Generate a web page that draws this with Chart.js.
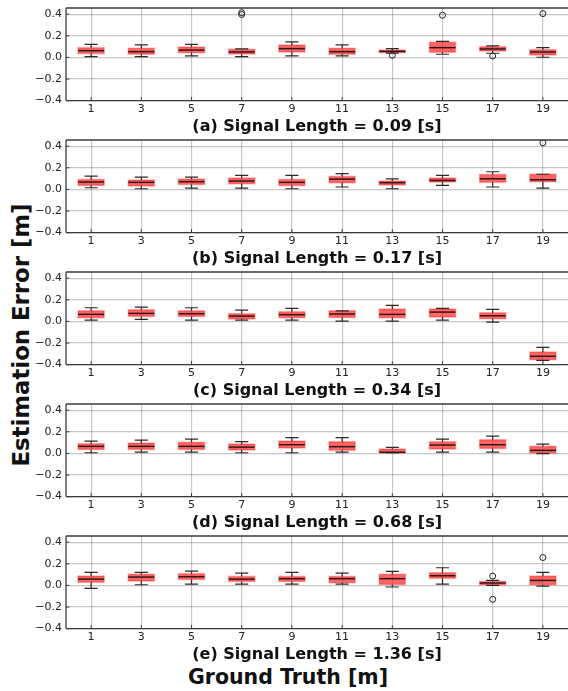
<!DOCTYPE html>
<html>
<head>
<meta charset="utf-8">
<script src="https://cdn.jsdelivr.net/npm/chart.js@4.4.0/dist/chart.umd.min.js"></script>
<style>
  body { margin: 0; background: #fff; }
  #figure { position: relative; width: 568px; height: 691px; overflow: hidden; font-family: 'DejaVu Sans', sans-serif; color: #111; }
  #figure canvas { position: absolute; left: 0; }
  .supx { position: absolute; left: 0; width: 576px; top: 665px; line-height: 24px; text-align: center; font-weight: bold; font-size: 20.5px; }
  .supy { position: absolute; left: -129px; top: 322px; width: 300px; line-height: 26px; text-align: center; font-weight: bold; font-size: 22.8px; transform: rotate(-90deg); }
</style>
</head>
<body>
<div id="figure">
  <div class="supy">Estimation Error [m]</div>
  <div class="supx">Ground Truth [m]</div>
</div>
<script>
const xLabels = ['1', '3', '5', '7', '9', '11', '13', '15', '17', '19'];
const yTicks = [-0.4, -0.2, 0.0, 0.2, 0.4];
const panelTitles = [
  '(a) Signal Length = 0.09 [s]',
  '(b) Signal Length = 0.17 [s]',
  '(c) Signal Length = 0.34 [s]',
  '(d) Signal Length = 0.68 [s]',
  '(e) Signal Length = 1.36 [s]'
];

// one row per signal length, one value per ground-truth position
const whiskerLow = [
  [0.007, 0.007, 0.013, 0.007, 0.013, 0.013, 0.040, 0.029, 0.038, 0.001],
  [0.015, 0.006, 0.012, 0.012, 0.006, 0.022, 0.006, 0.037, 0.022, 0.012],
  [0.012, 0.018, 0.012, 0.012, 0.012, 0.003, 0.003, 0.012, -0.006, -0.360],
  [0.006, 0.012, 0.012, 0.006, 0.006, 0.012, 0.006, 0.012, 0.012, -0.003],
  [-0.028, 0.006, 0.012, 0.012, 0.012, 0.012, -0.015, 0.012, 0.000, -0.006]
];
const q1 = [
  [0.035, 0.030, 0.044, 0.031, 0.050, 0.030, 0.044, 0.047, 0.059, 0.022],
  [0.037, 0.031, 0.046, 0.052, 0.035, 0.062, 0.040, 0.068, 0.065, 0.071],
  [0.034, 0.046, 0.046, 0.022, 0.034, 0.037, 0.034, 0.040, 0.025, -0.354],
  [0.037, 0.037, 0.037, 0.031, 0.049, 0.028, 0.006, 0.040, 0.046, 0.003],
  [0.028, 0.040, 0.055, 0.037, 0.037, 0.025, 0.009, 0.065, 0.006, 0.006]
];
const medians = [
  [0.062, 0.053, 0.068, 0.050, 0.081, 0.053, 0.056, 0.090, 0.078, 0.050],
  [0.068, 0.065, 0.071, 0.077, 0.065, 0.095, 0.062, 0.083, 0.098, 0.089],
  [0.065, 0.074, 0.071, 0.049, 0.062, 0.068, 0.065, 0.086, 0.052, -0.323],
  [0.065, 0.065, 0.065, 0.058, 0.080, 0.062, 0.010, 0.077, 0.080, 0.028],
  [0.058, 0.077, 0.080, 0.058, 0.062, 0.062, 0.062, 0.089, 0.022, 0.046]
];
const q3 = [
  [0.090, 0.084, 0.096, 0.075, 0.115, 0.084, 0.068, 0.140, 0.099, 0.071],
  [0.092, 0.086, 0.095, 0.105, 0.092, 0.120, 0.077, 0.105, 0.138, 0.140],
  [0.098, 0.108, 0.098, 0.071, 0.089, 0.098, 0.114, 0.114, 0.080, -0.283],
  [0.089, 0.095, 0.102, 0.086, 0.114, 0.108, 0.040, 0.108, 0.126, 0.065],
  [0.086, 0.102, 0.108, 0.083, 0.083, 0.083, 0.102, 0.117, 0.037, 0.086]
];
const whiskerHigh = [
  [0.121, 0.115, 0.121, 0.078, 0.143, 0.115, 0.081, 0.149, 0.106, 0.090],
  [0.123, 0.114, 0.114, 0.129, 0.129, 0.145, 0.098, 0.129, 0.163, 0.140],
  [0.126, 0.132, 0.126, 0.105, 0.120, 0.098, 0.148, 0.120, 0.111, -0.240],
  [0.114, 0.123, 0.132, 0.108, 0.145, 0.145, 0.055, 0.132, 0.160, 0.086],
  [0.120, 0.120, 0.132, 0.114, 0.120, 0.114, 0.129, 0.163, 0.046, 0.120]
];
const outliers = [
  [{ x: '7', y: 0.414 }, { x: '7', y: 0.397 }, { x: '13', y: 0.019 }, { x: '15', y: 0.390 }, { x: '17', y: 0.013 }, { x: '19', y: 0.405 }],
  [{ x: '19', y: 0.431 }],
  [],
  [],
  [{ x: '17', y: 0.086 }, { x: '17', y: -0.129 }, { x: '19', y: 0.258 }]
];

// box outline, whiskers, caps, medians, then frame and inward ticks
const boxDecor = {
  id: 'boxDecor',
  afterDatasetsDraw(chart, args, opts) {
    const { ctx, scales: { y } } = chart;
    const p = opts.panel;
    const bars = chart.getDatasetMeta(0).data;
    ctx.save();
    bars.forEach((bar, i) => {
      const cx = bar.x;
      const half = bar.width / 2;
      const cap = bar.width / 4;
      const yLo = y.getPixelForValue(whiskerLow[p][i]);
      const yHi = y.getPixelForValue(whiskerHigh[p][i]);
      const yQ1 = y.getPixelForValue(q1[p][i]);
      const yQ3 = y.getPixelForValue(q3[p][i]);
      const yMed = y.getPixelForValue(medians[p][i]);

      ctx.strokeStyle = 'rgba(255, 0, 0, 0.28)';
      ctx.lineWidth = 1.6;
      ctx.strokeRect(cx - half, yQ3, half * 2, yQ1 - yQ3);

      ctx.strokeStyle = '#2a2a2a';
      ctx.lineWidth = 1.2;
      ctx.beginPath();
      ctx.moveTo(cx, yQ1); ctx.lineTo(cx, yLo);
      ctx.moveTo(cx, yQ3); ctx.lineTo(cx, yHi);
      ctx.moveTo(cx - cap, yLo); ctx.lineTo(cx + cap, yLo);
      ctx.moveTo(cx - cap, yHi); ctx.lineTo(cx + cap, yHi);
      ctx.stroke();

      ctx.strokeStyle = 'rgba(20, 10, 10, 0.88)';
      ctx.lineWidth = 1.5;
      ctx.beginPath();
      ctx.moveTo(cx - half, yMed); ctx.lineTo(cx + half, yMed);
      ctx.stroke();
    });
    ctx.restore();
  },
  afterDraw(chart) {
    const { ctx, chartArea: a, scales: { x, y } } = chart;
    ctx.save();
    ctx.strokeStyle = '#3a3a3a';
    ctx.lineWidth = 1.3;
    ctx.beginPath();
    ctx.moveTo(a.left, a.top); ctx.lineTo(a.right, a.top);
    ctx.moveTo(a.left, a.bottom); ctx.lineTo(a.right, a.bottom);
    ctx.moveTo(a.left, a.top); ctx.lineTo(a.left, a.bottom);
    ctx.stroke();
    ctx.lineWidth = 1;
    ctx.beginPath();
    xLabels.forEach((l, i) => {
      const px = x.getPixelForValue(i);
      ctx.moveTo(px, a.bottom); ctx.lineTo(px, a.bottom - 3.5);
    });
    yTicks.forEach(v => {
      const py = y.getPixelForValue(v);
      ctx.moveTo(a.left, py); ctx.lineTo(a.left + 3.5, py);
    });
    ctx.stroke();
    ctx.restore();
  }
};

const figure = document.getElementById('figure');

panelTitles.forEach((title, p) => {
  const canvas = document.createElement('canvas');
  canvas.width = 568;
  canvas.height = 140;
  canvas.style.top = (132 * p) + 'px';
  figure.appendChild(canvas);

  const boxes = xLabels.map((l, i) => [q1[p][i], q3[p][i]]);

  new Chart(canvas.getContext('2d'), {
    type: 'bar',
    data: {
      labels: xLabels,
      datasets: [
        {
          data: boxes,
          backgroundColor: 'rgba(255, 0, 0, 0.6)',
          borderWidth: 0,
          barPercentage: 0.52,
          categoryPercentage: 1
        },
        {
          type: 'scatter',
          data: outliers[p],
          pointStyle: 'circle',
          pointRadius: 3,
          pointBackgroundColor: 'rgba(0, 0, 0, 0)',
          pointBorderColor: '#222',
          pointBorderWidth: 1
        }
      ]
    },
    options: {
      responsive: false,
      animation: false,
      devicePixelRatio: 1,
      layout: { autoPadding: false, padding: { top: 8, left: 0, right: 0, bottom: 0 } },
      plugins: {
        legend: { display: false },
        tooltip: { enabled: false },
        boxDecor: { panel: p }
      },
      scales: {
        x: {
          type: 'category',
          offset: true,
          grid: { offset: false, color: 'rgba(0, 0, 0, 0.22)', lineWidth: 1.2, drawTicks: false },
          border: { display: false },
          ticks: { color: '#222', padding: 2, font: { family: 'DejaVu Sans', size: 11 } },
          title: {
            display: true,
            text: title,
            color: '#111',
            padding: { top: 0, bottom: 4 },
            font: { family: 'DejaVu Sans', size: 16, weight: 'bold' }
          },
          afterFit: scale => { scale.height = 39.4; }
        },
        y: {
          min: -0.4,
          max: 0.457,
          grid: { color: 'rgba(0, 0, 0, 0.22)', lineWidth: 1.2, drawTicks: false },
          border: { display: false },
          ticks: {
            color: '#222',
            padding: 4,
            font: { family: 'DejaVu Sans', size: 11 },
            callback: v => (v < 0 ? '\u2212' : '') + Math.abs(v).toFixed(1)
          },
          afterBuildTicks: scale => { scale.ticks = yTicks.map(v => ({ value: v })); },
          afterFit: scale => {
            scale.width = 66;
            scale.paddingTop = 0;
            scale.paddingBottom = 0;
          }
        }
      }
    },
    plugins: [boxDecor]
  });
});
</script>
</body>
</html>
